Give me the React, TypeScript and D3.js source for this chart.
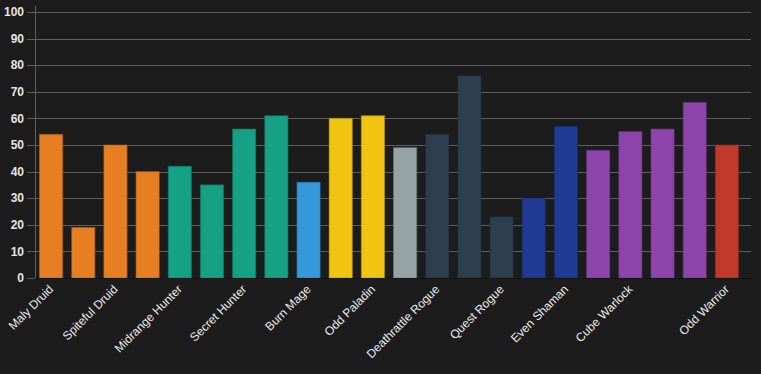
import React, { useEffect } from 'react';
import * as d3 from 'd3';

// deck names (only some are shown on the axis, like chart.js autoskip)
const decks = [
  'Maly Druid', 'Taunt Druid', 'Spiteful Druid', 'Token Druid',
  'Midrange Hunter', 'Recruit Hunter', 'Secret Hunter', 'Spell Hunter',
  'Burn Mage', 'Even Paladin', 'Odd Paladin', 'Resurrect Priest',
  'Deathrattle Rogue', 'Odd Rogue', 'Quest Rogue', 'Shudderwock Shaman',
  'Even Shaman', 'Control Warlock', 'Cube Warlock', 'Even Warlock',
  'Zoo Warlock', 'Odd Warrior',
];
const winRates = [54, 19, 50, 40, 42, 35, 56, 61, 36, 60, 61, 49, 54, 76, 23, 30, 57, 48, 55, 56, 66, 50];
const deckClass = [
  'Druid', 'Druid', 'Druid', 'Druid',
  'Hunter', 'Hunter', 'Hunter', 'Hunter',
  'Mage', 'Paladin', 'Paladin', 'Priest',
  'Rogue', 'Rogue', 'Rogue', 'Shaman',
  'Shaman', 'Warlock', 'Warlock', 'Warlock',
  'Warlock', 'Warrior',
];
const classColors: Record<string, string> = {
  Druid: '#e67e22',
  Hunter: '#16a085',
  Mage: '#3498db',
  Paladin: '#f1c40f',
  Priest: '#95a5a6',
  Rogue: '#2c3e50',
  Shaman: '#1f3a93',
  Warlock: '#8e44ad',
  Warrior: '#c0392b',
};
const yTicks = [0, 10, 20, 30, 40, 50, 60, 70, 80, 90, 100];

const W = 761;
const H = 374;
const margin = { top: 12, right: 10, bottom: 96, left: 35 };
const barsRight = 743; // bars stop a bit before the grid lines end

const App = () => {
  useEffect(() => {
    document.body.style.margin = '0';
    document.body.style.background = '#1c1c1c';
  }, []);

  const x = d3.scaleBand()
    .domain(decks)
    .range([margin.left, barsRight])
    .padding(0);
  const y = d3.scaleLinear()
    .domain([0, 100])
    .range([H - margin.bottom, margin.top]);

  const barW = x.bandwidth() * 0.72;
  const n = decks.length;
  // chart.js style autoskip: every 2nd label, last one always shown
  const showLabel = (i: number) => i === n - 1 || (i % 2 === 0 && i + 2 < n);
  const font = 'Helvetica, Arial, "Liberation Sans", sans-serif';

  return (
    <svg width={W} height={H} style={{ display: 'block', background: '#1c1c1c' }}>
      {yTicks.map(t => (
        <g key={t}>
          <line x1={27} x2={W - margin.right} y1={Math.round(y(t)) + 0.5} y2={Math.round(y(t)) + 0.5}
            stroke="#5e5e5e" strokeWidth={1} />
          <text x={24} y={y(t)} dy="0.35em" textAnchor="end" fill="#e6e6e6"
            fontFamily={font} fontSize={12} fontWeight="bold">{t}</text>
        </g>
      ))}
      <line x1={margin.left + 0.5} x2={margin.left + 0.5} y1={6} y2={y(0)} stroke="#5e5e5e" />

      {winRates.map((v, i) => {
        const cx = x(decks[i])! + x.bandwidth() / 2;
        const col = classColors[deckClass[i]];
        return (
          <rect key={decks[i]} x={cx - barW / 2} y={y(v)} width={barW} height={y(0) - y(v)}
            fill={col} stroke={d3.color(col)!.darker(0.8).toString()} strokeWidth={1} strokeOpacity={0.6} />
        );
      })}
      <line x1={margin.left} x2={W - margin.right} y1={y(0) + 0.5} y2={y(0) + 0.5} stroke="#141414" />

      {decks.map((d, i) => showLabel(i) ? (
        <text key={d} transform={`translate(${x(d)! + x.bandwidth() / 2 + 3},${y(0) + 12}) rotate(-45)`}
          textAnchor="end" fill="#ececec" fontFamily={font} fontSize={12}>{d}</text>
      ) : null)}
    </svg>
  );
};

export default App;
